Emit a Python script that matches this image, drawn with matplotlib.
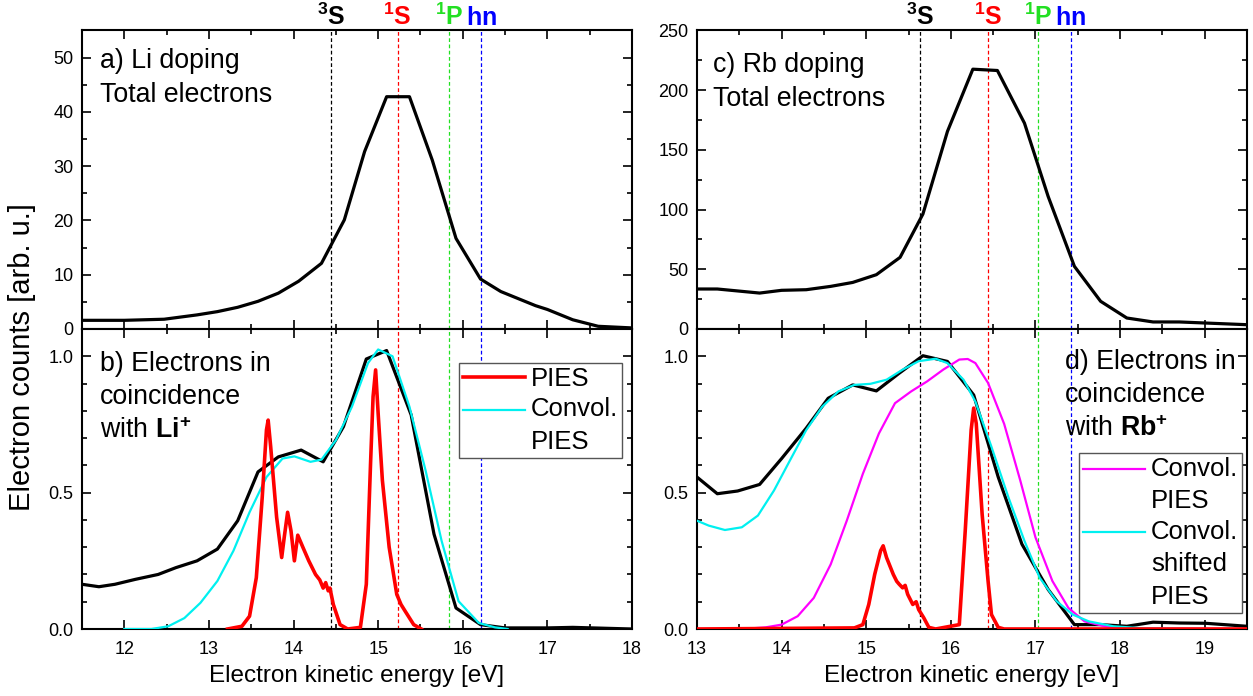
import numpy as np
import matplotlib
matplotlib.use("Agg")
import matplotlib.pyplot as plt
from matplotlib.ticker import MultipleLocator, FormatStrFormatter
from matplotlib.legend_handler import HandlerLine2D

plt.rcParams['font.family'] = ['Liberation Sans', 'DejaVu Sans']
plt.rcParams['mathtext.fontset'] = 'custom'
plt.rcParams['mathtext.rm'] = 'Liberation Sans'
plt.rcParams['mathtext.bf'] = 'Liberation Sans:bold'

# --- a) Li doping, total electrons
li_tot_x = [11.5, 12.0, 12.47, 12.86, 13.1, 13.34, 13.58, 13.82, 14.06, 14.33, 14.6, 14.84,
            15.1, 15.37, 15.64, 15.92, 16.21, 16.45, 16.86, 17.0, 17.3, 17.6, 18.0]
li_tot_y = [1.6, 1.6, 1.8, 2.6, 3.2, 4.0, 5.1, 6.6, 8.8, 12.1, 20.1, 32.7,
            42.8, 42.8, 31.1, 16.7, 9.2, 6.9, 4.3, 3.6, 1.7, 0.5, 0.2]

# --- c) Rb doping, total electrons
rb_tot_x = [13.0, 13.24, 13.74, 14.0, 14.29, 14.58, 14.84, 15.12, 15.4, 15.67, 15.96, 16.26,
            16.55, 16.87, 17.15, 17.46, 17.77, 18.08, 18.39, 18.7, 19.01, 19.5]
rb_tot_y = [33.5, 33.5, 30.1, 32.4, 32.9, 35.7, 39.0, 45.5, 60.0, 96.3, 165.5, 217.6,
            216.5, 172.4, 111.0, 52.5, 23.2, 9.2, 5.9, 5.9, 5.0, 3.6]

# --- b) Li coincidence
li_coin_x = [11.5, 11.7, 11.89, 12.13, 12.4, 12.61, 12.86, 13.1, 13.34, 13.58, 13.82, 14.09,
             14.35, 14.59, 14.86, 15.1, 15.39, 15.66, 15.92, 16.21, 16.5, 17.0, 17.3, 18.0]
li_coin_y = [0.164, 0.155, 0.164, 0.182, 0.2, 0.225, 0.25, 0.293, 0.397, 0.576, 0.631, 0.656,
             0.613, 0.742, 0.99, 1.021, 0.785, 0.348, 0.077, 0.016, 0.004, 0.004, 0.006, 0.0]

li_conv_x = [12.0, 12.32, 12.52, 12.71, 12.9, 13.1, 13.29, 13.48, 13.68, 13.87, 14.01, 14.2,
             14.33, 14.5, 14.69, 14.88, 15.0, 15.17, 15.37, 15.56, 15.75, 15.95, 16.19, 16.38, 16.53]
li_conv_y = [0.0, 0.0, 0.01, 0.04, 0.096, 0.176, 0.287, 0.428, 0.557, 0.625, 0.633, 0.613,
             0.621, 0.692, 0.815, 0.975, 1.025, 1.0, 0.815, 0.582, 0.323, 0.102, 0.022, 0.006, 0.0]

li_pies_x = [13.22, 13.39, 13.48, 13.56, 13.63, 13.68, 13.7, 13.73, 13.8, 13.86, 13.89, 13.93,
             13.97, 14.01, 14.05, 14.11, 14.18, 14.26, 14.31, 14.35, 14.38, 14.41, 14.43, 14.47,
             14.55, 14.64, 14.79, 14.86, 14.91, 14.94, 14.97, 15.0, 15.05, 15.13, 15.22, 15.27,
             15.32, 15.42, 15.51]
li_pies_y = [0.0, 0.01, 0.047, 0.188, 0.483, 0.73, 0.766, 0.668, 0.41, 0.262, 0.336, 0.428,
             0.36, 0.25, 0.344, 0.3, 0.25, 0.2, 0.18, 0.15, 0.17, 0.14, 0.15, 0.09,
             0.016, 0.0, 0.006, 0.164, 0.606, 0.852, 0.95, 0.79, 0.545, 0.3, 0.127, 0.09,
             0.065, 0.016, 0.0]

# --- d) Rb coincidence
rb_coin_x = [13.0, 13.24, 13.48, 13.74, 14.0, 14.29, 14.55, 14.84, 15.12, 15.39, 15.67, 15.96,
             16.27, 16.56, 16.84, 17.15, 17.46, 17.77, 18.08, 18.39, 18.7, 19.01, 19.5]
rb_coin_y = [0.557, 0.496, 0.506, 0.53, 0.625, 0.736, 0.846, 0.895, 0.873, 0.938, 1.002, 0.981,
             0.858, 0.557, 0.311, 0.145, 0.016, 0.016, 0.01, 0.025, 0.022, 0.021, 0.01]

rb_shift_x = [13.0, 13.14, 13.33, 13.53, 13.72, 13.91, 14.1, 14.29, 14.48, 14.67, 14.86, 15.05,
              15.24, 15.43, 15.62, 15.82, 15.96, 16.15, 16.29, 16.48, 16.68, 16.87, 17.05, 17.25,
              17.44, 17.63, 17.92, 18.3, 19.01]
rb_shift_y = [0.397, 0.379, 0.363, 0.373, 0.416, 0.508, 0.619, 0.729, 0.815, 0.871, 0.895, 0.899,
              0.914, 0.951, 0.982, 0.991, 0.975, 0.914, 0.834, 0.668, 0.483, 0.323, 0.188, 0.102,
              0.053, 0.028, 0.01, 0.002, 0.0]

rb_conv_x = [13.0, 13.53, 13.81, 14.0, 14.19, 14.38, 14.58, 14.77, 14.96, 15.15, 15.34, 15.53,
             15.72, 15.91, 16.1, 16.2, 16.29, 16.44, 16.63, 16.82, 17.0, 17.2, 17.39, 17.58,
             17.82, 18.1, 19.5]
rb_conv_y = [0.0, 0.0, 0.006, 0.016, 0.047, 0.114, 0.237, 0.397, 0.569, 0.717, 0.828, 0.871,
             0.908, 0.951, 0.988, 0.99, 0.975, 0.902, 0.752, 0.545, 0.336, 0.176, 0.077, 0.028,
             0.01, 0.002, 0.0]

rb_pies_x = [13.0, 14.86, 14.96, 15.03, 15.1, 15.17, 15.2, 15.24, 15.32, 15.36, 15.39, 15.43,
             15.46, 15.49, 15.55, 15.59, 15.62, 15.68, 15.74, 15.82, 16.1, 16.17, 16.24, 16.27,
             16.3, 16.37, 16.44, 16.48, 16.56, 16.63, 19.5]
rb_pies_y = [0.0, 0.004, 0.016, 0.09, 0.2, 0.287, 0.305, 0.262, 0.2, 0.175, 0.164, 0.151,
             0.16, 0.127, 0.09, 0.1, 0.071, 0.041, 0.006, 0.0, 0.016, 0.36, 0.73, 0.81,
             0.754, 0.42, 0.176, 0.053, 0.006, 0.0, 0.0]

# reference energies (3S, 1S, 1P, hn)
li_lines = [14.44, 15.23, 15.84, 16.22]
rb_lines = [15.64, 16.44, 17.03, 17.42]
line_labels = [r"$^{\mathbf{3}}\mathbf{S}$", r"$^{\mathbf{1}}\mathbf{S}$",
               r"$^{\mathbf{1}}\mathbf{P}$", r"$\mathbf{hn}$"]
line_colors = ["black", "#ff0000", "#22e022", "#0000ff"]


class TopLine(HandlerLine2D):
    # legend handle aligned with the first text line, like the original
    def __init__(self, shift, **kw):
        super().__init__(**kw)
        self.shift = shift

    def create_artists(self, legend, orig_handle, xdescent, ydescent, width, height, fontsize, trans):
        arts = super().create_artists(legend, orig_handle, xdescent, ydescent, width, height,
                                      fontsize, trans)
        for a in arts:
            a.set_ydata(np.asarray(a.get_ydata()) + self.shift * fontsize)
        return arts


fig = plt.figure(figsize=(12.53, 6.96), dpi=100)
W, H = 1253, 696
lx, rx, aw = 82 / W, 697 / W, 550 / W
ax_a = fig.add_axes([lx, 1 - 329 / H, aw, 298.5 / H])
ax_b = fig.add_axes([lx, 1 - 629 / H, aw, 300 / H])
ax_c = fig.add_axes([rx, 1 - 329 / H, aw, 298.5 / H])
ax_d = fig.add_axes([rx, 1 - 629 / H, aw, 300 / H])

for ax in (ax_a, ax_b, ax_c, ax_d):
    for s in ax.spines.values():
        s.set_linewidth(1.5)
    ax.tick_params(which='both', direction='in', top=True, right=True, labelsize=13, width=1.2)
    ax.tick_params(which='major', length=6.5)
    ax.tick_params(which='minor', length=3.5)
    ax.tick_params(axis='x', pad=9)
    ax.tick_params(axis='y', pad=6)
    ax.xaxis.set_major_locator(MultipleLocator(1))
    ax.xaxis.set_minor_locator(MultipleLocator(0.5))

for ax in (ax_a, ax_b):
    ax.set_xlim(11.5, 18)
for ax in (ax_c, ax_d):
    ax.set_xlim(13, 19.5)
ax_a.tick_params(labelbottom=False)
ax_c.tick_params(labelbottom=False)

ax_a.set_ylim(0, 55)
ax_a.yaxis.set_major_locator(MultipleLocator(10))
ax_a.yaxis.set_minor_locator(MultipleLocator(5))
ax_c.set_ylim(0, 250)
ax_c.yaxis.set_major_locator(MultipleLocator(50))
ax_c.yaxis.set_minor_locator(MultipleLocator(25))
for ax in (ax_b, ax_d):
    ax.set_ylim(0, 1.1)
    ax.yaxis.set_major_locator(MultipleLocator(0.5))
    ax.yaxis.set_minor_locator(MultipleLocator(0.1))
    ax.yaxis.set_major_formatter(FormatStrFormatter('%.1f'))
    ax.set_xlabel("Electron kinetic energy [eV]", fontsize=17.5, labelpad=5)

# dashed reference lines through both panels
for axes_pair, energies in (((ax_a, ax_b), li_lines), ((ax_c, ax_d), rb_lines)):
    for e, c in zip(energies, line_colors):
        for ax in axes_pair:
            ax.axvline(e, color=c, lw=0.9, ls=(0, (3, 2)), zorder=1)
    top = axes_pair[0]
    for e, c, lab in zip(energies, line_colors, line_labels):
        top.text(e, 1.003, lab, color=c, fontsize=18, ha='center', va='bottom',
                 transform=top.get_xaxis_transform())

ax_a.plot(li_tot_x, li_tot_y, color='black', lw=2.3, zorder=3)
ax_c.plot(rb_tot_x, rb_tot_y, color='black', lw=2.3, zorder=3)

ax_b.plot(li_coin_x, li_coin_y, color='black', lw=2.3, zorder=3)
pb1, = ax_b.plot(li_pies_x, li_pies_y, color='#ff0000', lw=2.6, zorder=5, label='PIES')
pb2, = ax_b.plot(li_conv_x, li_conv_y, color='#00f0f0', lw=1.6, zorder=4, label='Convol.\nPIES')

ax_d.plot(rb_coin_x, rb_coin_y, color='black', lw=2.3, zorder=3)
pd1, = ax_d.plot(rb_conv_x, rb_conv_y, color='#ff00ff', lw=1.6, zorder=4, label='Convol.\nPIES')
pd2, = ax_d.plot(rb_shift_x, rb_shift_y, color='#00f0f0', lw=1.6, zorder=4,
                 label='Convol.\nshifted\nPIES')
ax_d.plot(rb_pies_x, rb_pies_y, color='#ff0000', lw=2.6, zorder=5)

leg_kw = dict(fontsize=18.5, fancybox=False, edgecolor='#555555', framealpha=1,
              handlelength=2.4, handletextpad=0.25, borderpad=0.15, labelspacing=0.25,
              borderaxespad=0)
lb = ax_b.legend(handles=[pb1, pb2], loc='upper right', bbox_to_anchor=(0.982, 0.887),
                 handler_map={pb2: TopLine(0.64)}, **leg_kw)
ld = ax_d.legend(handles=[pd1, pd2], loc='upper right', bbox_to_anchor=(0.991, 0.587),
                 handler_map={pd1: TopLine(0.64), pd2: TopLine(1.28)}, **leg_kw)
for lg in (lb, ld):
    lg.get_frame().set_linewidth(1.0)
    lg.set_zorder(10)
    for t in lg.get_texts():
        t.set_linespacing(1.45)

txt_kw = dict(fontsize=19.3, ha='left', va='top', linespacing=1.38)
ax_a.text(0.033, 0.94, "a) Li doping\nTotal electrons", transform=ax_a.transAxes, **txt_kw)
ax_c.text(0.0295, 0.928, "c) Rb doping\nTotal electrons", transform=ax_c.transAxes, **txt_kw)
ax_b.text(0.033, 0.928, "b) Electrons in\ncoincidence\nwith $\\mathbf{Li}^{\\mathbf{+}}$",
          transform=ax_b.transAxes, **txt_kw)
ax_d.text(0.669, 0.935, "d) Electrons in\ncoincidence\nwith $\\mathbf{Rb}^{\\mathbf{+}}$",
          transform=ax_d.transAxes, **txt_kw)

fig.text(22 / W, 1 - 357 / H, "Electron counts [arb. u.]", rotation=90, fontsize=21,
         ha='center', va='center')

fig.savefig("out.png", dpi=100)
